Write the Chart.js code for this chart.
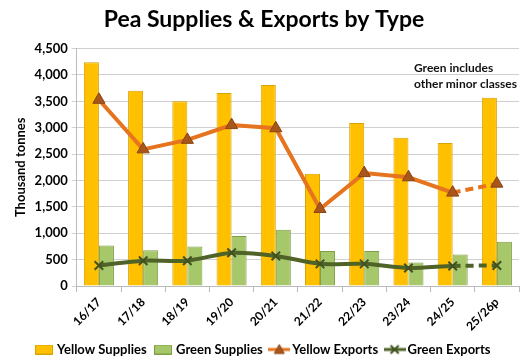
<!DOCTYPE html>
<html><head><meta charset="utf-8">
<script src="https://cdn.jsdelivr.net/npm/chart.js@4"></script>
<style>html,body{margin:0;padding:0;background:#fff;}#wrap{width:529px;height:360px;}</style>
</head><body><div id="wrap"><canvas id="c" width="529" height="360"></canvas></div>
<script>
const categories = ["16/17","17/18","18/19","19/20","20/21","21/22","22/23","23/24","24/25","25/26p"];
const yellowSupplies = [4240,3700,3500,3660,3810,2130,3090,2810,2710,3570];
const greenSupplies = [770,680,750,950,1065,665,665,445,595,840];
const yellowExports = [3530,2590,2770,3050,2990,1460,2140,2060,1770,1940];
const greenExports = [390,480,480,630,570,420,420,340,380,390];
const yTicks = [0,500,1000,1500,2000,2500,3000,3500,4000,4500];
const noteLines = ["Green includes","other minor classes"];
const FONT = "Lato, 'Open Sans', sans-serif";

const lastIdx = categories.length - 1;
const dashLast = ctx => ctx.p1DataIndex === lastIdx ? [8,5] : undefined;

function legendIcon(lineColor, marker, fill, stroke){
  const cv = document.createElement('canvas');
  cv.width = 22; cv.height = 12;
  const c = cv.getContext('2d');
  c.strokeStyle = lineColor; c.lineWidth = 3;
  c.beginPath(); c.moveTo(0,6); c.lineTo(22,6); c.stroke();
  if (marker === 'tri'){
    c.fillStyle = fill; c.strokeStyle = stroke; c.lineWidth = 1;
    c.beginPath(); c.moveTo(11,1); c.lineTo(16,10); c.lineTo(6,10); c.closePath(); c.fill(); c.stroke();
  } else {
    c.strokeStyle = stroke; c.lineWidth = 2;
    c.beginPath(); c.moveTo(7,2); c.lineTo(15,10); c.moveTo(15,2); c.lineTo(7,10); c.stroke();
  }
  return cv;
}
function barIcon(fill, stroke){
  const cv = document.createElement('canvas');
  cv.width = 18; cv.height = 10;
  const c = cv.getContext('2d');
  c.fillStyle = fill; c.fillRect(0,0,18,10);
  c.strokeStyle = stroke; c.lineWidth = 1; c.strokeRect(0.5,0.5,17,9);
  return cv;
}
const icons = [
  barIcon('#FFC000','#D9A300'),
  barIcon('#A6C86A','#7E9F45'),
  legendIcon('#E6731E','tri','#A9561B','#8B4513'),
  legendIcon('#4F6228','x',null,'#3F5220')
];

const notePlugin = {
  id:'note',
  afterDraw(chart){
    const c = chart.ctx;
    c.save();
    c.font = "bold 12px " + FONT;
    c.fillStyle = "#111";
    c.textAlign = "left";
    c.textBaseline = "middle";
    noteLines.forEach((t,i)=>c.fillText(t, 414, 68 + i*16));
    c.restore();
  }
};

new Chart(document.getElementById('c'), {
  data: {
    labels: categories,
    datasets: [
      {type:'bar', label:'Yellow Supplies', data:yellowSupplies, backgroundColor:'#FFC000', borderColor:'#D9A300', borderWidth:1, order:3},
      {type:'bar', label:'Green Supplies', data:greenSupplies, backgroundColor:'#A6C86A', borderColor:'#7E9F45', borderWidth:1, order:3},
      {type:'line', label:'Yellow Exports', data:yellowExports, borderColor:'#E6731E', borderWidth:4, pointStyle:'triangle', pointRadius:7, pointBackgroundColor:'#A9561B', pointBorderColor:'#8B4513', pointBorderWidth:1, tension:0, segment:{borderDash:dashLast}, order:1},
      {type:'line', label:'Green Exports', data:greenExports, borderColor:'#4F6228', borderWidth:4, pointStyle:'crossRot', pointRadius:6, pointBorderColor:'#3F5220', pointBorderWidth:2, tension:0.25, segment:{borderDash:dashLast}, order:2}
    ]
  },
  options: {
    responsive:false, animation:false,
    layout:{padding:{left:9,right:10,top:0,bottom:-6}},
    datasets:{bar:{categoryPercentage:0.68, barPercentage:1.0}},
    plugins:{
      title:{display:true, text:'Pea Supplies & Exports by Type', font:{family:FONT, size:23, weight:'bold'}, color:'#000', padding:{top:6,bottom:15}},
      legend:{position:'bottom',
        labels:{usePointStyle:true, padding:10, font:{family:FONT, size:13, weight:'bold'}, color:'#000',
          generateLabels:(chart)=>{
            const items = Chart.defaults.plugins.legend.labels.generateLabels(chart);
            items.forEach(it=>{ it.pointStyle = icons[it.datasetIndex]; });
            return items.sort((a,b)=>a.datasetIndex-b.datasetIndex);
          }}},
      tooltip:{enabled:false}
    },
    scales:{
      x:{grid:{offset:true, drawOnChartArea:false, tickLength:6, color:'#BBB'}, border:{color:'#BBB'},
         afterFit:s=>{s.height = 47;},
         ticks:{maxRotation:45, minRotation:45, font:{family:FONT, size:12, weight:'bold'}, color:'#000', padding:3}},
      y:{min:0, max:4500, afterBuildTicks:ax=>{ax.ticks = yTicks.map(v=>({value:v}));},
         grid:{color:'#D0D0D0', tickLength:5}, border:{color:'#BBB'},
         ticks:{font:{family:FONT, size:13, weight:'bold'}, color:'#000', padding:4, callback:v=>v.toLocaleString('en-US')},
         title:{display:true, text:'Thousand tonnes', font:{family:FONT, size:13, weight:'bold'}, color:'#000', padding:{bottom:2}}}
    }
  },
  plugins:[notePlugin]
});
</script></body></html>
